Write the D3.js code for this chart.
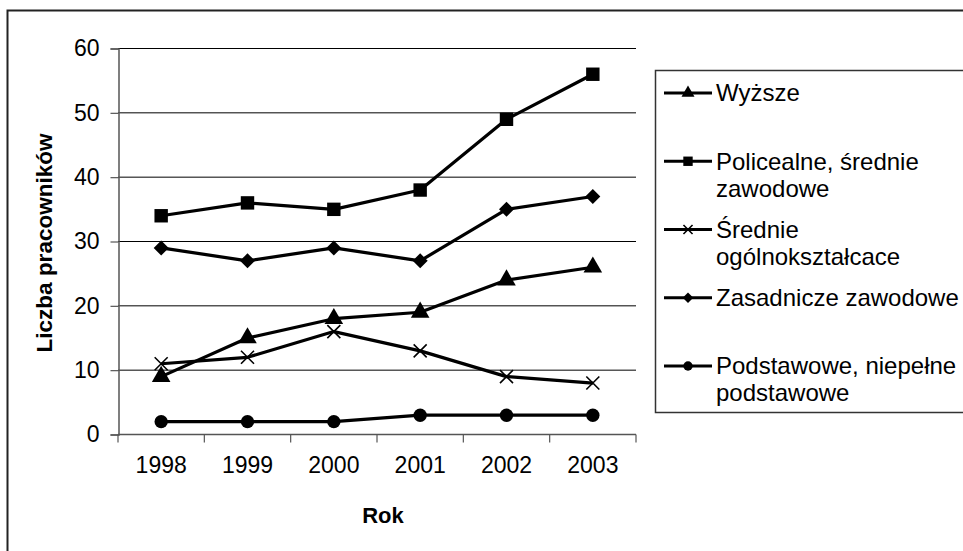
<!DOCTYPE html>
<html>
<head>
<meta charset="utf-8">
<script src="https://cdn.jsdelivr.net/npm/d3@7"></script>
<style>
    body { margin: 0; background: #fff; }
    svg text { font-family: "Liberation Sans", Arial, sans-serif; fill: #000; }
</style>
</head>
<body>
<div id="chart"></div>
<script>
// Chart data
var years = ["1998", "1999", "2000", "2001", "2002", "2003"];
var yTicks = [0, 10, 20, 30, 40, 50, 60];

var wyzsze = [9, 15, 18, 19, 24, 26];
var policealne = [34, 36, 35, 38, 49, 56];
var srednieOgolne = [11, 12, 16, 13, 9, 8];
var zasadnicze = [29, 27, 29, 27, 35, 37];
var podstawowe = [2, 2, 2, 3, 3, 3];

var seriesNames = [
    ["Wyższe"],
    ["Policealne, średnie", "zawodowe"],
    ["Średnie", "ogólnokształcace"],
    ["Zasadnicze zawodowe"],
    ["Podstawowe, niepełne", "podstawowe"]
];
var seriesValues = [wyzsze, policealne, srednieOgolne, zasadnicze, podstawowe];
var seriesMarkers = ["triangle", "square", "times", "diamond", "circle"];

/**
 * Returns a path string for the given marker type and scale.
 */
function markerPath(type, k) {
    if (type == "triangle") return d3.symbol(d3.symbolTriangle, 150 * k * k)();
    if (type == "square") return d3.symbol(d3.symbolSquare, 180 * k * k)();
    if (type == "circle") return d3.symbol(d3.symbolCircle, 140 * k * k)();
    if (type == "diamond") {
        var h = 7.5 * k;
        return "M0," + (-h) + "L" + h + ",0L0," + h + "L" + (-h) + ",0Z";
    }
    var r = 6.5 * k;
    return "M" + (-r) + "," + (-r) + "L" + r + "," + r + "M" + (-r) + "," + r + "L" + r + "," + (-r);
}

function drawMarker(g, type, x, y, k) {
    var p = g.append("path")
        .attr("transform", "translate(" + x + "," + y + ")")
        .attr("d", markerPath(type, k));
    if (type == "times") {
        p.attr("fill", "none").attr("stroke", "#000").attr("stroke-width", 1.6);
    } else {
        p.attr("fill", "#000");
    }
}

function drawChart() {
    var svg = d3.select("#chart")
        .append("svg")
        .attr("width", 963)
        .attr("height", 551);

    // outer frame
    svg.append("rect")
        .attr("x", 7.5).attr("y", 10.5)
        .attr("width", 1000).attr("height", 600)
        .attr("fill", "none")
        .attr("stroke", "#222")
        .attr("stroke-width", 2);

    var x = d3.scaleBand().domain(years).range([118, 636]);
    var y = d3.scaleLinear().domain([0, 60]).range([434.5, 48.5]);

    // gridlines
    svg.append("g")
        .selectAll("line")
        .data(yTicks.slice(1))
        .enter().append("line")
        .attr("x1", 118).attr("x2", 636)
        .attr("y1", function (d) { return y(d); })
        .attr("y2", function (d) { return y(d); })
        .attr("stroke", "#000")
        .attr("stroke-width", 1);

    // y axis
    var yAxis = svg.append("g")
        .attr("transform", "translate(118.5,0)")
        .call(d3.axisLeft(y).tickValues(yTicks).tickSize(8).tickPadding(11));
    yAxis.select(".domain").attr("stroke", "#555").attr("stroke-width", 1.5);
    yAxis.selectAll(".tick line").attr("stroke", "#555").attr("stroke-width", 1.2);
    yAxis.selectAll("text").style("font-size", "23px").attr("font-family", null);

    // x axis: labels at band centres, ticks at band edges
    var xAxis = svg.append("g")
        .attr("transform", "translate(0," + y(0) + ")")
        .call(d3.axisBottom(x).tickSize(0).tickPadding(22));
    xAxis.select(".domain").remove();
    xAxis.selectAll("text").style("font-size", "23px").attr("font-family", null);

    svg.append("line")
        .attr("x1", 118).attr("x2", 636)
        .attr("y1", y(0)).attr("y2", y(0))
        .attr("stroke", "#555").attr("stroke-width", 1.5);

    var edges = years.map(function (d) { return x(d); }).concat([x.range()[1]]);
    svg.append("g")
        .selectAll("line")
        .data(edges)
        .enter().append("line")
        .attr("x1", function (d) { return d; })
        .attr("x2", function (d) { return d; })
        .attr("y1", y(0)).attr("y2", y(0) + 8)
        .attr("stroke", "#555").attr("stroke-width", 1.2);

    // axis titles
    svg.append("text")
        .attr("x", 383).attr("y", 523)
        .style("text-anchor", "middle")
        .style("font-weight", "bold")
        .style("font-size", "22px")
        .text("Rok");

    svg.append("text")
        .attr("transform", "translate(52,243) rotate(-90)")
        .style("text-anchor", "middle")
        .style("font-weight", "bold")
        .style("font-size", "22.5px")
        .text("Liczba pracowników");

    // series lines and markers
    var cx = function (d, i) { return x(years[i]) + x.bandwidth() / 2; };
    var line = d3.line()
        .x(cx)
        .y(function (d) { return y(d); });

    seriesValues.forEach(function (vals, s) {
        svg.append("path")
            .datum(vals)
            .attr("d", line)
            .attr("fill", "none")
            .attr("stroke", "#000")
            .attr("stroke-width", 3.2)
            .attr("stroke-linejoin", "round");
        var g = svg.append("g");
        vals.forEach(function (v, i) {
            drawMarker(g, seriesMarkers[s], cx(v, i), y(v), 1);
        });
    });

    // legend
    var legend = svg.append("g");
    legend.append("rect")
        .attr("x", 655.5).attr("y", 70.5)
        .attr("width", 400).attr("height", 342)
        .attr("fill", "#fff")
        .attr("stroke", "#333")
        .attr("stroke-width", 1.5);

    var rowY = d3.scaleLinear().domain([0, 4]).range([93, 366]);
    seriesNames.forEach(function (lines, s) {
        var ly = rowY(s);
        legend.append("line")
            .attr("x1", 664).attr("x2", 712)
            .attr("y1", ly).attr("y2", ly)
            .attr("stroke", "#000").attr("stroke-width", 3.2);
        drawMarker(legend, seriesMarkers[s], 688, ly, 0.7);
        lines.forEach(function (t, j) {
            legend.append("text")
                .attr("x", 716)
                .attr("y", ly + j * 27)
                .attr("dy", "0.35em")
                .style("font-size", "24px")
                .text(t);
        });
    });
}

drawChart();
</script>
</body>
</html>
